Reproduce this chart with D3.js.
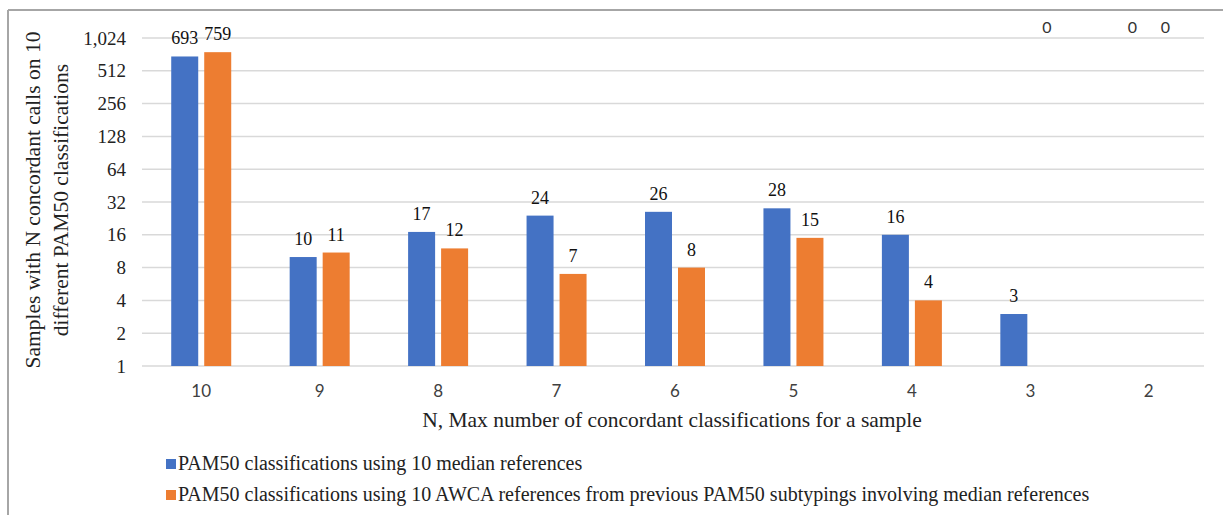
<!DOCTYPE html>
<html>
<head>
<meta charset="utf-8">
<script src="https://cdn.jsdelivr.net/npm/d3@7"></script>
<style>
  html, body { margin: 0; padding: 0; background: #fff; }
  svg { display: block; }
</style>
</head>
<body>
<svg id="chart" width="1223" height="515"></svg>
<script>
// Categories: N, the max number of concordant classifications for a sample
const categories = ["10", "9", "8", "7", "6", "5", "4", "3", "2"];
// Samples per category for each reference set
const medianValues = [693, 10, 17, 24, 26, 28, 16, 3, 0];
const awcaValues = [759, 11, 12, 7, 8, 15, 4, 0, 0];
const seriesNames = [
  "PAM50 classifications using 10 median references",
  "PAM50 classifications using 10 AWCA references from previous PAM50 subtypings involving median references"
];
const seriesColors = ["#4472C4", "#ED7D31"];
const yTicks = [1, 2, 4, 8, 16, 32, 64, 128, 256, 512, 1024];

const svg = d3.select("#chart");
const serif = "'Liberation Serif', 'Times New Roman', serif";
const sans = "Lato, 'Liberation Sans', Arial, sans-serif";

// Outer frame (top and left edges visible)
svg.append("line").attr("x1", 8).attr("x2", 1223).attr("y1", 10).attr("y2", 10)
  .attr("stroke", "#a6a6a6").attr("stroke-width", 2);
svg.append("line").attr("x1", 8).attr("x2", 8).attr("y1", 10).attr("y2", 515)
  .attr("stroke", "#a6a6a6").attr("stroke-width", 2);

const plot = { left: 142, right: 1208, top: 38, bottom: 366 };

const x = d3.scaleBand().domain(categories).range([plot.left, plot.right]);
const y = d3.scaleLog().base(2).domain([1, 1024]).range([plot.bottom, plot.top]);

// Grid lines
svg.append("g").selectAll("line").data(yTicks).join("line")
  .attr("x1", plot.left).attr("x2", 1204)
  .attr("y1", d => y(d)).attr("y2", d => y(d))
  .attr("stroke", "#d9d9d9").attr("stroke-width", 1.5);

// Y axis labels
const yAxis = d3.axisLeft(y).tickValues(yTicks).tickSize(0).tickPadding(0)
  .tickFormat(d3.format(","));
const gy = svg.append("g").attr("transform", `translate(${126},0)`).call(yAxis);
gy.select(".domain").remove();
gy.selectAll("text").attr("font-family", serif).attr("font-size", 19).attr("fill", "#222");

// X axis labels
const xAxis = d3.axisBottom(x).tickSize(0).tickPadding(0);
const gx = svg.append("g").attr("transform", `translate(0,${385})`).call(xAxis);
gx.select(".domain").remove();
gx.selectAll("text").attr("font-family", sans).attr("font-size", 17).attr("fill", "#404040")
  .attr("dy", "0.71em");

// Bars
const barW = 27, barGap = 6;
const series = [medianValues, awcaValues];
const offsets = [-(barW / 2 + barGap / 2), (barW / 2 + barGap / 2)];

series.forEach((vals, si) => {
  const data = categories.map((c, i) => ({ c, v: vals[i] }));
  const g = svg.append("g");
  g.selectAll("rect").data(data.filter(d => d.v > 0)).join("rect")
    .attr("x", d => x(d.c) + x.bandwidth() / 2 + offsets[si] - barW / 2)
    .attr("width", barW)
    .attr("y", d => y(d.v))
    .attr("height", d => y(1) - y(d.v))
    .attr("fill", seriesColors[si]);

  // Value labels (zeros cannot sit on a log axis; they go to the top)
  g.selectAll("text").data(data).join("text")
    .attr("x", d => x(d.c) + x.bandwidth() / 2 + offsets[si])
    .attr("y", d => d.v > 0 ? y(d.v) - 12 : y(1024) - 5)
    .attr("text-anchor", "middle")
    .attr("font-family", d => d.v > 0 ? serif : sans)
    .attr("font-size", d => d.v > 0 ? 18 : 16)
    .attr("fill", d => d.v > 0 ? "#111" : "#333")
    .text(d => d.v);
});

// Axis titles
svg.append("text")
  .attr("x", 672).attr("y", 427)
  .attr("text-anchor", "middle")
  .attr("font-family", serif).attr("font-size", 21.5).attr("fill", "#222")
  .text("N, Max number of concordant classifications for a sample");

const yTitle = svg.append("text")
  .attr("transform", "translate(40,200) rotate(-90)")
  .attr("text-anchor", "middle")
  .attr("font-family", serif).attr("font-size", 21.5).attr("fill", "#222");
yTitle.append("tspan").attr("x", 0).attr("dy", 0).text("Samples with N concordant calls on 10");
yTitle.append("tspan").attr("x", 0).attr("dy", 28).text("different PAM50 classifications");

// Legend
const legend = svg.append("g");
seriesNames.forEach((name, i) => {
  const ly = 464 + i * 31;
  legend.append("rect").attr("x", 166).attr("y", ly - 5).attr("width", 10).attr("height", 10)
    .attr("fill", seriesColors[i]);
  legend.append("text").attr("x", 178).attr("y", ly + 6)
    .attr("font-family", serif).attr("font-size", 20).attr("fill", "#222")
    .text(name);
});
</script>
</body>
</html>
